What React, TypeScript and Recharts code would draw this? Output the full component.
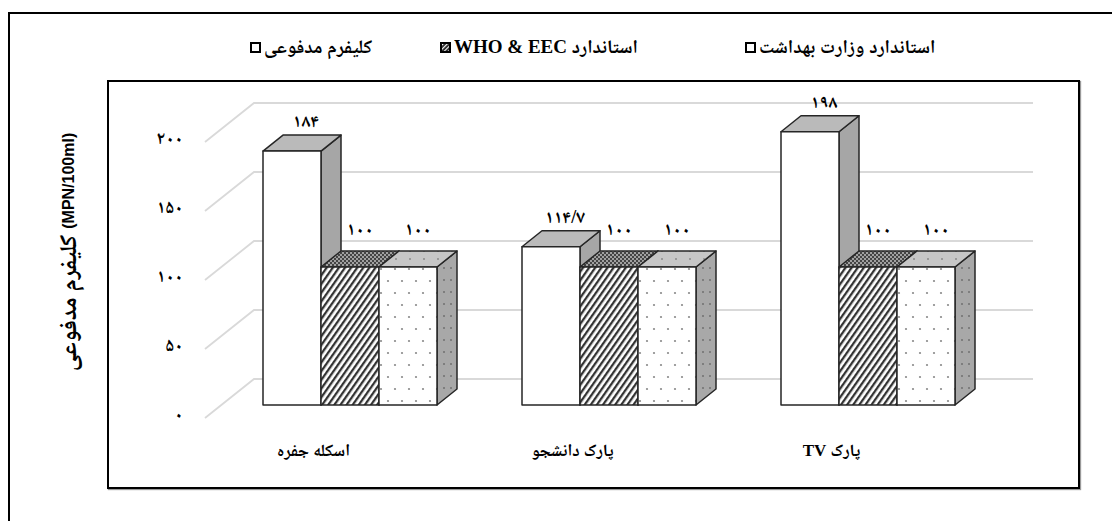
import { BarChart, Bar, XAxis, YAxis, CartesianGrid, Legend } from 'recharts';

// ─── data ─────────────────────────────────────────────────────────────────────

const categories = ['اسکله جفره', 'پارک دانشجو', 'پارک TV'];
const fecalColiform = [184, 114.7, 198];
const whoEecStandard = [100, 100, 100];
const ministryStandard = [100, 100, 100];
const yTicks = [0, 50, 100, 150, 200];

const seriesNames = ['کلیفرم مدفوعی', 'استاندارد WHO & EEC', 'استاندارد وزارت بهداشت'];

const data = categories.map((name, i) => ({
  name,
  coliform: fecalColiform[i],
  who: whoEecStandard[i],
  ministry: ministryStandard[i],
}));

// ─── style ────────────────────────────────────────────────────────────────────

const FONT = "'Liberation Serif', 'Noto Naskh Arabic', 'DejaVu Sans', serif";
const EDGE = '#262626';
const DX = 20; // depth offset of the 3D faces
const DY = 16;

const toFa = (v: number | string) =>
  String(v).replace('.', '/').replace(/[0-9]/g, (d) => '۰۱۲۳۴۵۶۷۸۹'[Number(d)]);

function make3D(front: string, top: string, side: string) {
  return (p: any) => {
    const { x, y, width: w, height: h } = p;
    if (!w || !h) return <g />;
    return (
      <g stroke={EDGE} strokeWidth={1.5} strokeLinejoin="round">
        <polygon
          points={`${x + w},${y} ${x + w + DX},${y - DY} ${x + w + DX},${y + h - DY} ${x + w},${y + h}`}
          fill={side}
        />
        <polygon points={`${x},${y} ${x + DX},${y - DY} ${x + w + DX},${y - DY} ${x + w},${y}`} fill={top} />
        <rect x={x} y={y} width={w} height={h} fill={front} />
      </g>
    );
  };
}

function valueLabel(lift: number, shift: number) {
  return (p: any) => (
    <text
      x={p.x + p.width / 2 + shift}
      y={p.y - lift}
      textAnchor="middle"
      dominantBaseline="central"
      fontFamily={FONT}
      fontWeight="bold"
      fontSize={18}
      fill="#000"
    >
      {toFa(p.value)}
    </text>
  );
}

// gridline on the back wall plus the diagonal on the side wall
const gridLine = (p: any) => (
  <g key={p.key}>
    <polyline
      points={`${p.x1 - 15},${p.y1 + 13} ${p.x1 + 34},${p.y1 - 26} ${p.x2 + 36},${p.y1 - 26}`}
      fill="none"
      stroke="#d9d9d9"
      strokeWidth={1.8}
    />
  </g>
);

const YTick = (p: any) => (
  <text
    x={p.x}
    y={p.y + 9}
    textAnchor="end"
    dominantBaseline="central"
    fontFamily={FONT}
    fontWeight="bold"
    fontSize={18}
    fill="#000"
  >
    {toFa(p.payload.value)}
  </text>
);

const XTick = (p: any) => (
  <text
    x={p.x - 36}
    y={p.y + 43}
    textAnchor="middle"
    dominantBaseline="central"
    direction="rtl"
    fontFamily={FONT}
    fontWeight="bold"
    fontSize={17}
    fill="#000"
  >
    {p.payload.value}
  </text>
);

const LEGEND_LEFT = [250, 440, 745];

function LegendKey({ index }: { index: number }) {
  return (
    <svg width={11} height={11} style={{ display: 'block' }}>
      <rect x={1} y={1} width={9} height={9} fill={index === 1 ? 'url(#keyHatch)' : '#fff'} stroke="#000" strokeWidth={2} />
    </svg>
  );
}

// legend drawn in series order (the default legend sorts items by name)
const renderLegend = () => (
  <div style={{ position: 'relative', width: 1112, height: 26 }}>
    {seriesNames.map((name, i) => (
      <div
        key={i}
        style={{
          position: 'absolute',
          left: LEGEND_LEFT[i],
          top: 0,
          display: 'flex',
          alignItems: 'center',
          gap: 3,
          fontFamily: FONT,
          fontWeight: 'bold',
          fontSize: 19,
          lineHeight: '26px',
          whiteSpace: 'nowrap',
        }}
      >
        <LegendKey index={i} />
        <span style={{ direction: 'rtl' }}>{name}</span>
      </div>
    ))}
  </div>
);

// ─── App ──────────────────────────────────────────────────────────────────────

export default function App() {
  return (
    <div>
      <svg width={0} height={0} style={{ position: 'absolute' }}>
        <defs>
          <pattern id="hatch" patternUnits="userSpaceOnUse" width={5} height={5} patternTransform="rotate(35)">
            <rect width={5} height={5} fill="#fff" />
            <rect width={2.3} height={5} fill="#333" />
          </pattern>
          <pattern id="keyHatch" patternUnits="userSpaceOnUse" width={3} height={3} patternTransform="rotate(45)">
            <rect width={3} height={3} fill="#333" />
            <rect width={1} height={3} fill="#fff" />
          </pattern>
          <pattern id="checker" patternUnits="userSpaceOnUse" width={4} height={4}>
            <rect width={4} height={4} fill="#a0a0a0" />
            <rect width={2} height={2} fill="#444" />
            <rect x={2} y={2} width={2} height={2} fill="#444" />
          </pattern>
          <pattern id="dotsFront" patternUnits="userSpaceOnUse" width={14} height={24}>
            <rect width={14} height={24} fill="#fff" />
            <circle cx={3} cy={5} r={1.1} fill="#8a8a8a" />
            <circle cx={10} cy={17} r={1.1} fill="#8a8a8a" />
          </pattern>
          <pattern id="dotsTop" patternUnits="userSpaceOnUse" width={14} height={8}>
            <rect width={14} height={8} fill="#c6c6c6" />
            <circle cx={4} cy={3} r={1} fill="#8a8a8a" />
          </pattern>
          <pattern id="dotsSide" patternUnits="userSpaceOnUse" width={7} height={12}>
            <rect width={7} height={12} fill="#a8a8a8" />
            <circle cx={3} cy={4} r={1} fill="#707070" />
          </pattern>
        </defs>
      </svg>

      {/* outer frame (right and bottom edges fall outside the window) */}
      <div
        style={{
          position: 'absolute', left: 8, top: 12, right: 0, bottom: 0,
          borderLeft: '2px solid #000', borderTop: '2px solid #000',
        }}
      />
      {/* plot frame */}
      <div
        style={{
          position: 'absolute', left: 107, top: 80, width: 973, height: 409,
          boxSizing: 'border-box', border: '2px solid #000', boxShadow: '1px 1px 1px #999',
        }}
      />

      <div style={{ position: 'absolute', left: 0, top: 0 }}>
        <BarChart
          width={1112}
          height={521}
          data={data}
          margin={{ top: 129, right: 115, bottom: 86, left: 160 }}
          barGap={0}
          barSize={58}
        >
          <CartesianGrid vertical={false} horizontal={gridLine} />
          <XAxis
            dataKey="name"
            axisLine={false}
            tickLine={false}
            tickSize={0}
            height={30}
            tick={<XTick />}
          />
          <YAxis
            domain={[0, 200]}
            ticks={yTicks}
            axisLine={false}
            tickLine={false}
            tickSize={0}
            tickMargin={37}
            width={60}
            tick={<YTick />}
          />
          <Legend
            layout="horizontal"
            verticalAlign="middle"
            align="center"
            wrapperStyle={{ top: 34, left: 0, width: 1112, height: 26 }}
            content={renderLegend}
          />
          <Bar
            dataKey="coliform"
            name={seriesNames[0]}
            fill="#fff"
            shape={make3D('#fff', '#bababa', '#a6a6a6')}
            label={valueLabel(30, 14)}
            isAnimationActive={false}
          />
          <Bar
            dataKey="who"
            name={seriesNames[1]}
            fill="url(#hatch)"
            shape={make3D('url(#hatch)', 'url(#checker)', '#888')}
            label={valueLabel(38, 10)}
            isAnimationActive={false}
          />
          <Bar
            dataKey="ministry"
            name={seriesNames[2]}
            fill="#fff"
            shape={make3D('url(#dotsFront)', 'url(#dotsTop)', 'url(#dotsSide)')}
            label={valueLabel(38, 10)}
            isAnimationActive={false}
          />
        </BarChart>
      </div>

      {/* y-axis title */}
      <svg width={1112} height={521} style={{ position: 'absolute', left: 0, top: 0, pointerEvents: 'none' }}>
        <text
          x={68}
          y={252}
          transform="rotate(-90, 68, 252)"
          textAnchor="middle"
          dominantBaseline="central"
          fontWeight="bold"
          fill="#000"
        >
          <tspan fontFamily={FONT} fontSize={24}>کلیفرم مدفوعی </tspan>
          <tspan fontFamily="'Liberation Sans', Arial, sans-serif" fontSize={16}>(MPN/100ml)</tspan>
        </text>
      </svg>
    </div>
  );
}
